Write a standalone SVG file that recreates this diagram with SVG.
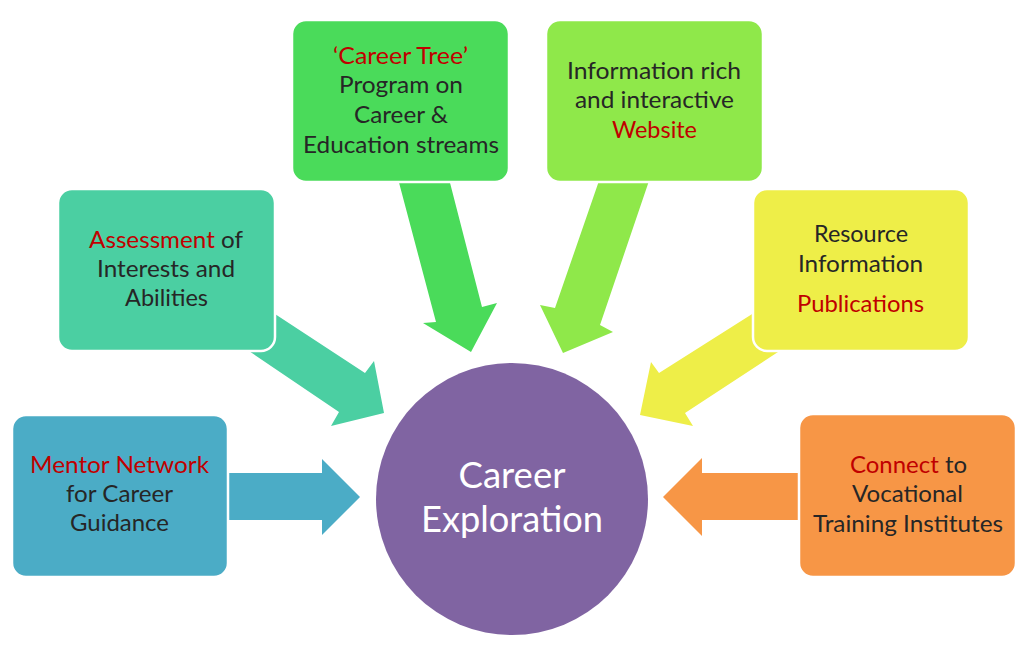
<svg xmlns="http://www.w3.org/2000/svg" width="1024" height="657" viewBox="0 0 1024 657">
  <style>
    .box { stroke: #ffffff; stroke-width: 2.5; }
    .t { font-family: Lato, "Open Sans", "Liberation Sans", sans-serif; font-size: 23px; fill: #262626; text-anchor: middle; }
    .r { fill: #C00000; }
    .c { font-family: Lato, "Open Sans", "Liberation Sans", sans-serif; font-size: 36px; fill: #ffffff; text-anchor: middle; }
  </style>
  <rect width="1024" height="657" fill="#ffffff"/>

  <g id="connectors">
    <polygon fill="#4BACC6" points="222,473 322,473 322,459 360,497 322,535 322,520 222,520"/>
    <polygon fill="#4BCFA2" points="240,291 365,373 374,361 384,413 331,426 339,412 215,328"/>
    <polygon fill="#4ADB5A" points="397,175 448,175 482,307 497,303 471,352 423,323 436,322"/>
    <polygon fill="#8FE84A" points="601,175 651,175 600,325 613,332 563,353 540,305 555,308"/>
    <polygon fill="#EEEE48" points="790,290 659,373 651,362 640,415 693,426 685,413 810,331"/>
    <polygon fill="#F79646" points="806,473 702,473 702,458 663,497 702,536 702,520 806,520"/>
  </g>

  <g id="center">
    <circle cx="512" cy="499" r="136" fill="#8064A2"/>
    <text class="c" x="512" y="488" textLength="107" lengthAdjust="spacingAndGlyphs">Career</text>
    <text class="c" x="512" y="532" textLength="182" lengthAdjust="spacingAndGlyphs">Exploration</text>
  </g>

  <g id="mentor">
    <rect class="box" x="12" y="415" width="216" height="162" rx="14" fill="#4BACC6"/>
    <text class="t" x="119.5" y="473" textLength="179" lengthAdjust="spacingAndGlyphs"><tspan class="r">Mentor Network</tspan></text>
    <text class="t" x="119.5" y="502" textLength="107" lengthAdjust="spacingAndGlyphs">for Career</text>
    <text class="t" x="119.5" y="531" textLength="99" lengthAdjust="spacingAndGlyphs">Guidance</text>
  </g>

  <g id="assessment">
    <rect class="box" x="58" y="189" width="217" height="162" rx="14" fill="#4BCFA2"/>
    <text class="t" x="166" y="248" textLength="154" lengthAdjust="spacingAndGlyphs"><tspan class="r">Assessment</tspan> of</text>
    <text class="t" x="166" y="277" textLength="138" lengthAdjust="spacingAndGlyphs">Interests and</text>
    <text class="t" x="166.5" y="306" textLength="83" lengthAdjust="spacingAndGlyphs">Abilities</text>
  </g>

  <g id="career-tree">
    <rect class="box" x="292" y="20" width="217" height="162" rx="14" fill="#4ADB5A"/>
    <text class="t" x="400.5" y="64" textLength="135" lengthAdjust="spacingAndGlyphs"><tspan class="r">‘Career Tree’</tspan></text>
    <text class="t" x="401" y="93" textLength="124" lengthAdjust="spacingAndGlyphs">Program on</text>
    <text class="t" x="401" y="123" textLength="94" lengthAdjust="spacingAndGlyphs">Career &amp;</text>
    <text class="t" x="401" y="153" textLength="196" lengthAdjust="spacingAndGlyphs">Education streams</text>
  </g>

  <g id="website">
    <rect class="box" x="546" y="20" width="217" height="162" rx="14" fill="#8FE84A"/>
    <text class="t" x="654" y="79" textLength="174" lengthAdjust="spacingAndGlyphs">Information rich</text>
    <text class="t" x="654.5" y="108" textLength="159" lengthAdjust="spacingAndGlyphs">and interactive</text>
    <text class="t" x="654.5" y="138" textLength="85" lengthAdjust="spacingAndGlyphs"><tspan class="r">Website</tspan></text>
  </g>

  <g id="resource">
    <rect class="box" x="753" y="189" width="216" height="162" rx="14" fill="#EEEE48"/>
    <text class="t" x="861" y="242" textLength="94" lengthAdjust="spacingAndGlyphs">Resource</text>
    <text class="t" x="860.5" y="272" textLength="125" lengthAdjust="spacingAndGlyphs">Information</text>
    <text class="t" x="860.5" y="312" textLength="127" lengthAdjust="spacingAndGlyphs"><tspan class="r">Publications</tspan></text>
  </g>

  <g id="connect">
    <rect class="box" x="799" y="414" width="217" height="163" rx="14" fill="#F79646"/>
    <text class="t" x="908.5" y="473" textLength="117" lengthAdjust="spacingAndGlyphs"><tspan class="r">Connect</tspan> to</text>
    <text class="t" x="907.5" y="502" textLength="111" lengthAdjust="spacingAndGlyphs">Vocational</text>
    <text class="t" x="908" y="532" textLength="190" lengthAdjust="spacingAndGlyphs">Training Institutes</text>
  </g>
</svg>
